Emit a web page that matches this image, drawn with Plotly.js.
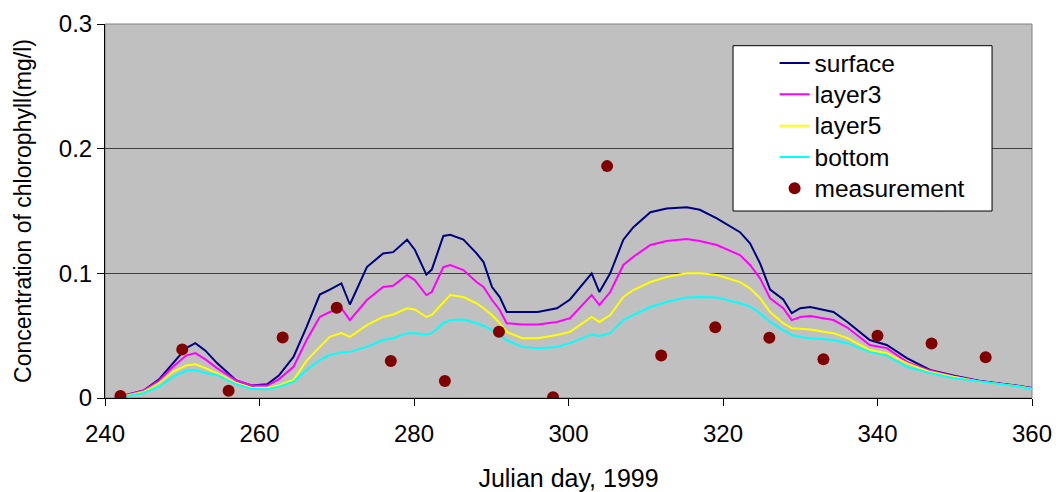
<!DOCTYPE html>
<html>
<head>
<meta charset="utf-8">
<script src="https://cdn.plot.ly/plotly-3.0.1.min.js"></script>
<style>html,body{margin:0;padding:0;background:#fff;}#chart{width:1056px;height:492px;}</style>
</head>
<body>
<div id="chart"></div>
<script>
const days = [242.5,245,247,248.8,250.5,251.7,253,254.5,257,259,261,262.5,264.4,266.1,267.8,269.1,270.6,271.7,273.9,276,277.3,279.1,280.1,281.6,282.3,283.8,284.7,286.4,288.1,289,290.1,291.1,292,294,296,298.5,300.2,303,304,305.4,307.1,308.4,310.6,312.7,315.3,317,319.2,322.2,323.5,324.8,326.1,327.8,328.9,330,331.3,334.3,336.1,339,341.2,343.8,346.8,349.8,353.3,358.4,360];
const surface = [0.002,0.006,0.015,0.028,0.040,0.044,0.038,0.028,0.014,0.010,0.011,0.018,0.033,0.057,0.083,0.087,0.092,0.075,0.105,0.116,0.117,0.127,0.119,0.099,0.103,0.130,0.131,0.127,0.116,0.109,0.089,0.081,0.069,0.069,0.069,0.072,0.079,0.100,0.085,0.100,0.127,0.137,0.149,0.152,0.153,0.151,0.144,0.133,0.124,0.108,0.087,0.079,0.068,0.072,0.073,0.069,0.061,0.0465,0.0425,0.032,0.0225,0.018,0.0136,0.0096,0.008];
const layer3 = [0.002,0.006,0.014,0.025,0.034,0.036,0.031,0.024,0.014,0.010,0.010,0.015,0.025,0.0465,0.065,0.069,0.072,0.0625,0.0786,0.089,0.090,0.0986,0.0946,0.0826,0.085,0.105,0.1067,0.1026,0.093,0.089,0.0786,0.0706,0.060,0.059,0.059,0.061,0.064,0.0826,0.0746,0.085,0.1067,0.1133,0.1227,0.1259,0.1275,0.126,0.1227,0.1147,0.1067,0.096,0.080,0.072,0.0625,0.065,0.0657,0.0625,0.0565,0.0425,0.040,0.029,0.022,0.0175,0.0135,0.0095,0.0078];
const layer5 = [0.0015,0.005,0.012,0.021,0.026,0.027,0.024,0.020,0.012,0.008,0.008,0.010,0.0144,0.030,0.041,0.049,0.052,0.049,0.0585,0.065,0.067,0.072,0.071,0.065,0.0666,0.077,0.0826,0.081,0.076,0.072,0.0666,0.060,0.053,0.048,0.048,0.0505,0.053,0.065,0.061,0.0666,0.081,0.0866,0.093,0.097,0.100,0.100,0.0986,0.093,0.088,0.080,0.069,0.060,0.056,0.0555,0.055,0.052,0.048,0.0385,0.036,0.028,0.021,0.017,0.013,0.0092,0.0075];
const bottom = [0.001,0.004,0.009,0.017,0.022,0.0225,0.020,0.0185,0.011,0.0072,0.007,0.009,0.013,0.0225,0.0305,0.0345,0.0366,0.037,0.041,0.0465,0.048,0.052,0.052,0.051,0.052,0.060,0.0625,0.063,0.060,0.058,0.0545,0.0505,0.0465,0.041,0.040,0.041,0.044,0.051,0.0497,0.052,0.0625,0.0666,0.073,0.077,0.0807,0.081,0.0807,0.076,0.0735,0.068,0.061,0.0545,0.0505,0.049,0.048,0.0465,0.044,0.037,0.034,0.025,0.020,0.016,0.013,0.009,0.007];
const measDays = [242,250,256,263,270,277,284,291,298,305,312,319,326,333,340,347,354];
const measValues = [0.0016,0.039,0.0058,0.0485,0.0724,0.0297,0.0136,0.0532,0.0007,0.186,0.034,0.0567,0.0484,0.031,0.050,0.0438,0.0326];
const seriesNames = ['surface','layer3','layer5','bottom','measurement'];
const xTicks = [240,260,280,300,320,340,360];
const yTicks = [0,0.1,0.2,0.3];
const yTickText = ['0','0.1','0.2','0.3'];

const FONT = 'Liberation Sans, Arial, sans-serif';
function legName(s){ return '<span style="font-size:24.5px">' + s + '</span>'; }
function line(i, y, color){
  return {x: days, y: y, name: legName(seriesNames[i]), type: 'scatter', mode: 'lines',
    line: {color: color, width: 2}};
}
const traces = [
  line(0, surface, '#000080'),
  line(1, layer3, '#ff00ff'),
  line(2, layer5, '#ffff00'),
  line(3, bottom, '#00ffff'),
  {x: measDays, y: measValues, name: legName(seriesNames[4]), type: 'scatter', mode: 'markers',
   marker: {color: '#800000', size: 12}}
];
const layout = {
  width: 1056, height: 492,
  margin: {l: 105, r: 24, t: 24, b: 94},
  paper_bgcolor: '#ffffff', plot_bgcolor: '#c0c0c0',
  font: {family: FONT, size: 24, color: '#000'},
  showlegend: true,
  legend: {x: 0.677, y: 0.951, xanchor: 'left', yanchor: 'top',
    bgcolor: 'rgba(0,0,0,0)', borderwidth: 0, indentation: 42,
    font: {family: FONT, size: 21.8, color: '#000'}, traceorder: 'normal'},
  xaxis: {range: [240, 360], tickvals: xTicks, ticks: 'outside', ticklen: 7, tickcolor: '#000',
    showline: true, linecolor: '#000', linewidth: 1, showgrid: false, zeroline: false,
    ticklabelstandoff: 7,
    tickfont: {family: FONT, size: 24, color: '#000'},
    title: {text: 'Julian day, 1999', font: {family: FONT, size: 25, color: '#000'}, standoff: 32}},
  yaxis: {range: [0, 0.3], tickvals: yTicks, ticktext: yTickText, ticks: 'outside', ticklen: 7, tickcolor: '#000',
    showline: true, linecolor: '#000', linewidth: 1, showgrid: true, gridcolor: '#404040', gridwidth: 1,
    zeroline: false, tickfont: {family: FONT, size: 24, color: '#000'},
    title: {text: 'Concentration of chlorophyll(mg/l)', font: {family: FONT, size: 23, color: '#000'}, standoff: 20}},
  shapes: [
    {type: 'rect', xref: 'paper', yref: 'paper', x0: 0, x1: 1, y0: 0, y1: 1,
     line: {color: '#808080', width: 1}, layer: 'below'},
    {type: 'rect', xref: 'paper', yref: 'paper', x0: 0.6775, x1: 0.9569, y0: 0.5, y1: 0.942,
     fillcolor: '#ffffff', line: {color: '#000000', width: 1}, layer: 'above'}
  ]
};
Plotly.newPlot('chart', traces, layout, {displayModeBar: false, staticPlot: true});
</script>
</body>
</html>
